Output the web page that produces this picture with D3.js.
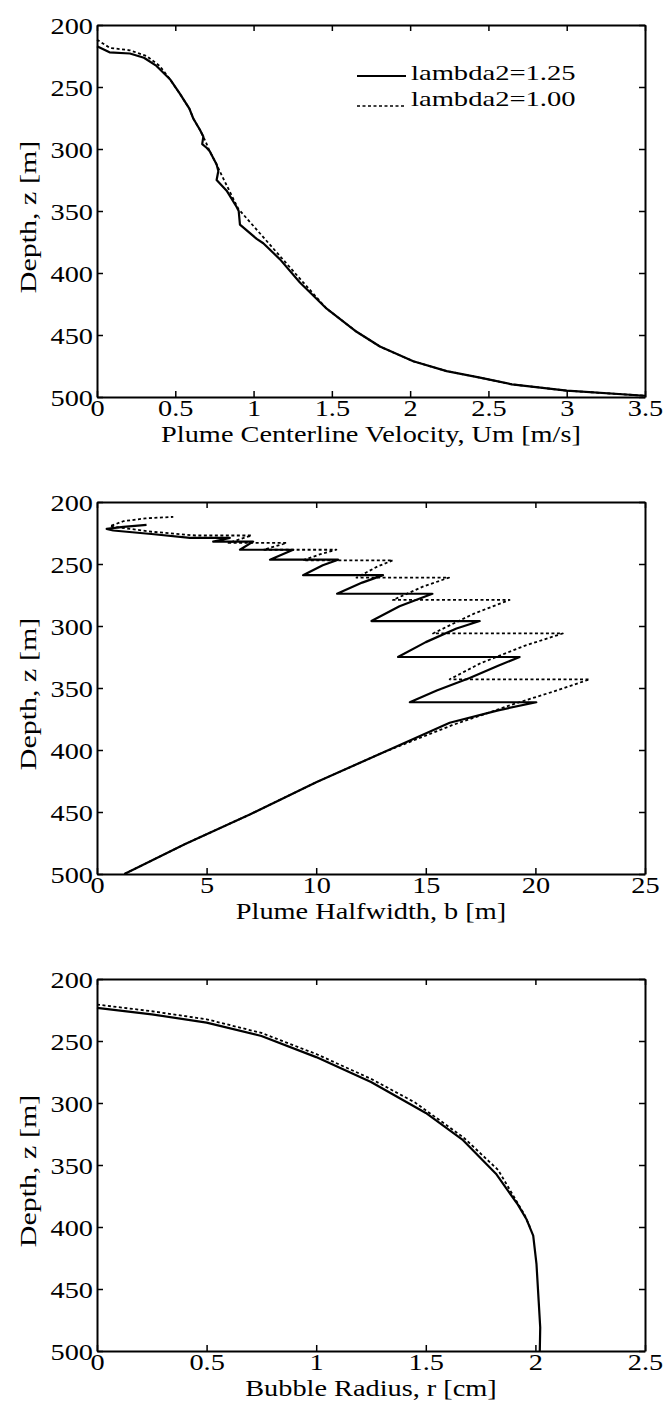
<!DOCTYPE html>
<html><head><meta charset="utf-8">
<script src="https://cdn.jsdelivr.net/npm/d3@7/dist/d3.min.js"></script>
<style>
html,body{margin:0;padding:0;background:#fff;}
svg{display:block;}
text{font-family:"Liberation Serif","Times New Roman",serif;fill:#000;}
</style></head>
<body>
<script>
// ---------- data ----------
const depthTicks = [200, 250, 300, 350, 400, 450, 500];

const velTicks = [0, 0.5, 1, 1.5, 2, 2.5, 3, 3.5];
const velTitle = "Plume Centerline Velocity, Um [m/s]";
const velSolidU = [0, 0.08, 0.21, 0.30, 0.38, 0.466, 0.53, 0.59, 0.615, 0.658, 0.679, 0.672, 0.70, 0.72, 0.764, 0.775, 0.764, 0.828, 0.892, 0.905, 0.913, 1.02, 1.062, 1.169, 1.296, 1.467, 1.658, 1.807, 2.02, 2.233, 2.446, 2.65, 3.0, 3.5];
const velSolidZ = [217.2, 222, 223, 226.4, 233, 243.7, 255.6, 267.5, 275.4, 284.7, 290, 296, 299, 301.8, 312.5, 317.7, 325, 333.6, 346.8, 350, 361, 372.5, 376, 389, 407.7, 428.8, 447.4, 459.3, 471.2, 479.1, 484.4, 489.8, 494.9, 499];
const velDashU = [0, 0.083, 0.21, 0.317, 0.40, 0.466, 0.53, 0.59, 0.615, 0.658, 0.69, 0.72, 0.764, 0.781, 0.902, 1.318, 1.467, 1.658, 1.807, 2.02, 2.233, 2.446, 2.65, 3.0, 3.5];
const velDashZ = [211.9, 218.5, 220.4, 225, 233, 243.7, 255.6, 267.5, 275.4, 284.7, 293, 301.8, 312.5, 317.2, 348.2, 407.7, 428.8, 447.4, 459.3, 471.2, 479.1, 484.4, 489.8, 494.9, 499];

const bTicks = [0, 5, 10, 15, 20, 25];
const bTitle = "Plume Halfwidth, b [m]";
const bSolidB = [1.25, 4.0, 6.97, 10.0, 13.05, 16.09, 18.3, 20.04, 14.27, 15.5, 17.0, 18.3, 19.28, 13.73, 15.0, 16.4, 17.46, 12.52, 13.8, 15.3, 10.95, 12.1, 13.05, 9.40, 10.3, 11.0, 7.89, 8.95, 6.52, 7.12, 5.3, 6.06, 4.24, 2.6, 0.74, 0.44, 1.2, 2.26];
const bSolidZ = [500, 476, 452, 426, 402, 378, 368, 361.5, 361.5, 352, 342, 332, 325, 325, 313, 302, 296, 296, 284, 274, 274, 265, 259, 259, 251, 246.5, 246.5, 238.5, 238.5, 232, 232, 229, 229, 226, 223, 221.7, 220, 218.5];
const bDashB = [1.25, 4.0, 6.97, 10.0, 13.05, 16.2, 19.0, 20.8, 22.47, 16.09, 17.5, 19.5, 21.25, 15.33, 17.2, 18.82, 13.5, 14.9, 16.06, 11.84, 12.8, 13.5, 9.4, 10.2, 10.92, 7.6, 8.65, 6.0, 7.05, 4.5, 2.5, 0.59, 1.2, 2.2, 3.48];
const bDashZ = [500, 476, 452, 426, 402, 380, 363, 353, 343, 343, 330, 316, 306, 306, 290, 279, 279, 268, 261, 261, 252, 247, 247, 242, 238.5, 238.5, 233, 233, 227, 227, 224, 219.5, 215.5, 213.2, 212];

const rTicks = [0, 0.5, 1, 1.5, 2, 2.5];
const rTitle = "Bubble Radius, r [cm]";
const rSolidR = [0, 0.25, 0.5, 0.75, 1.0, 1.25, 1.5, 1.67, 1.82, 1.92, 1.96, 1.99, 2.005, 2.015, 2.022, 2.02];
const rSolidZ = [223.3, 228.5, 235.2, 246, 263, 283, 308, 330, 357, 382, 394, 407, 430, 460, 481, 500];
const rDashR = [0, 0.25, 0.5, 0.75, 1.0, 1.25, 1.45, 1.67, 1.83, 1.95, 1.975];
const rDashZ = [220.6, 226, 232.5, 243.5, 260.5, 280.5, 299.5, 327.5, 354, 390, 400];

const yTitle = "Depth, z [m]";
const legendLabels = ["lambda2=1.25", "lambda2=1.00"];

// ---------- layout ----------
const W = 670, H = 1416;
const left = 97, right = 645;
const tops = [25, 502, 979];
const plotH = 372;
const FS = 24, SX = 1.18;
const svg = d3.select("body").append("svg").attr("width", W).attr("height", H);

function fmt(v){ return String(v); }

function label(g, x, y, str, anchor, rot, fs, sx){
  const t = g.append("g").attr("transform", `translate(${x},${y})` + (rot ? ` rotate(${rot})` : ""));
  t.append("text").attr("transform", `scale(${sx || SX},1)`).attr("text-anchor", anchor)
    .attr("font-size", fs || FS).text(str);
}

function panel(i, xMax, xTicks, xTitle, series, withLegend){
  const top = tops[i];
  const x = d3.scaleLinear().domain([0, xMax]).range([left, right]);
  const y = d3.scaleLinear().domain([200, 500]).range([top, top + plotH]);
  const g = svg.append("g");

  const tk = 6;
  const axB = g.append("g").attr("transform", `translate(0,${top + plotH})`)
    .call(d3.axisBottom(x).tickValues(xTicks).tickFormat(fmt).tickSizeInner(-tk).tickSizeOuter(0).tickPadding(2));
  const axT = g.append("g").attr("transform", `translate(0,${top})`)
    .call(d3.axisTop(x).tickValues(xTicks).tickFormat("").tickSizeInner(-tk).tickSizeOuter(0));
  const axL = g.append("g").attr("transform", `translate(${left},0)`)
    .call(d3.axisLeft(y).tickValues(depthTicks).tickFormat(fmt).tickSizeInner(-tk).tickSizeOuter(0).tickPadding(4));
  const axR = g.append("g").attr("transform", `translate(${right},0)`)
    .call(d3.axisRight(y).tickValues(depthTicks).tickFormat("").tickSizeInner(-tk).tickSizeOuter(0));
  [axB, axT, axL, axR].forEach(a => {
    a.select(".domain").attr("stroke", "#000").attr("stroke-width", 2);
    a.selectAll(".tick line").attr("stroke", "#000").attr("stroke-width", 1.5);
    a.selectAll("text").attr("font-size", FS).attr("font-family", "Liberation Serif").attr("fill", "#000");
  });
  axB.selectAll(".tick text").attr("dy", "0.71em").attr("transform", `scale(${SX},1)`);
  axL.selectAll(".tick text").attr("dy", "0.35em").attr("x", -4 / SX).attr("transform", `scale(${SX},1)`);

  // titles
  label(g, (left + right) / 2, top + plotH + 45, xTitle, "middle", 0);
  label(g, 36, top + plotH / 2 + 6, yTitle, "middle", -90, FS, 1.25);

  // lines
  const line = d3.line().x(d => x(d[0])).y(d => y(d[1]));
  series.forEach(s => {
    const pts = s.xs.map((v, k) => [v, s.zs[k]]);
    g.append("path").datum(pts).attr("d", line).attr("fill", "none")
      .attr("stroke", "#000").attr("stroke-width", s.dash ? 1.8 : 2.2)
      .attr("stroke-linejoin", "round")
      .attr("stroke-dasharray", s.dash ? "3,2.5" : null);
  });

  if (withLegend){
    const lx0 = 357, lx1 = 406, tx = 411;
    const rows = [{yl: 76, yt: 80, dash: false}, {yl: 106, yt: 106, dash: true}];
    rows.forEach((r, k) => {
      g.append("line").attr("x1", lx0).attr("x2", lx1).attr("y1", r.yl).attr("y2", r.yl)
        .attr("stroke", "#000").attr("stroke-width", r.dash ? 1.5 : 2)
        .attr("stroke-dasharray", r.dash ? "3,2.5" : null);
      label(g, tx, r.yt, legendLabels[k], "start", 0, 22, 1.3);
    });
  }
}

panel(0, 3.5, velTicks, velTitle, [
  {xs: velSolidU, zs: velSolidZ, dash: false},
  {xs: velDashU, zs: velDashZ, dash: true}], true);
panel(1, 25, bTicks, bTitle, [
  {xs: bSolidB, zs: bSolidZ, dash: false},
  {xs: bDashB, zs: bDashZ, dash: true}], false);
panel(2, 2.5, rTicks, rTitle, [
  {xs: rSolidR, zs: rSolidZ, dash: false},
  {xs: rDashR, zs: rDashZ, dash: true}], false);
</script>
</body></html>
